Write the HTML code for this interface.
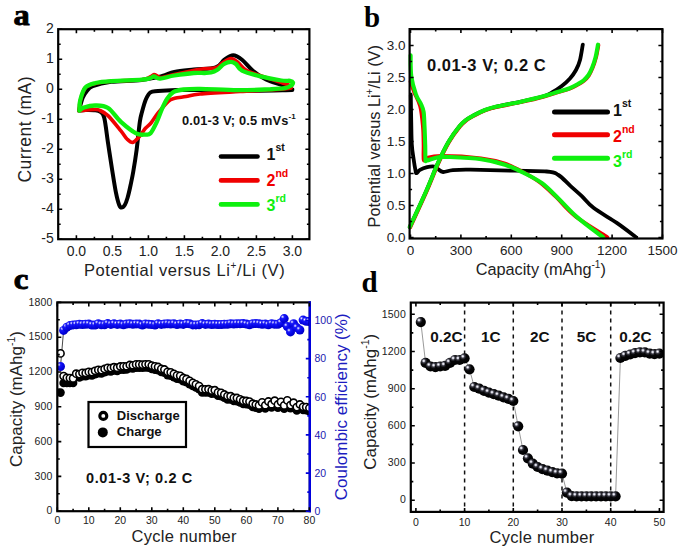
<!DOCTYPE html>
<html><head><meta charset="utf-8"><title>Figure</title>
<style>
html,body{margin:0;padding:0;background:#fff;}
body{width:685px;height:551px;overflow:hidden;}
svg{display:block;}
text{font-family:"Liberation Sans", sans-serif;}
.pl{font-family:"Liberation Serif", serif;font-weight:bold;}
</style></head><body>
<svg width="685" height="551" viewBox="0 0 685 551">
<defs>
<radialGradient id="ballK" cx="0.32" cy="0.3" r="0.7">
<stop offset="0" stop-color="#ffffff"/><stop offset="0.1" stop-color="#d8d8e4"/><stop offset="0.27" stop-color="#3a3a44"/><stop offset="0.5" stop-color="#060608"/><stop offset="1" stop-color="#000"/>
</radialGradient>
<radialGradient id="ballB" cx="0.32" cy="0.3" r="0.7">
<stop offset="0" stop-color="#ffffff"/><stop offset="0.1" stop-color="#a8a8ff"/><stop offset="0.28" stop-color="#1a1af8"/><stop offset="0.6" stop-color="#0808ea"/><stop offset="1" stop-color="#0000c8"/>
</radialGradient>
</defs>
<rect width="685" height="551" fill="#fff"/>

<text class="pl" x="13.6" y="25.2" font-size="30" fill="#000" stroke="#000" stroke-width="0.9" transform="translate(13.8 0) scale(1.08 1) translate(-13.8 0)">a</text>
<path d="M292.3,90 C285.2,90.1 265.4,90.8 250,90.8 C234.6,90.8 212.2,90.1 200,90 C187.8,89.9 184,89.8 177,90 C170,90.2 162.5,90.6 158.1,91 C153.7,91.4 152.6,90.9 150.5,92.3 C148.4,93.7 147.2,96.2 145.8,99.5 C144.4,102.8 143,108.2 142,112 C141,115.8 140.7,115.7 139.8,122 C138.9,128.3 137.7,141.7 136.6,150 C135.5,158.3 134.2,166.2 133.2,172 C132.2,177.8 131.5,180.7 130.6,185 C129.7,189.3 128.5,194.7 127.5,198 C126.5,201.3 125.8,203.4 124.8,205 C123.8,206.6 122.5,207.6 121.6,207.6 C120.7,207.6 120.2,207.6 119.2,205 C118.2,202.4 117,197.8 115.8,191.8 C114.6,185.8 113.3,177.1 112,169 C110.7,160.9 109.4,152 108.1,143.5 C106.8,135 105.6,123.4 104.3,118.1 C103,112.8 102.2,113.1 100.5,111.8 C98.8,110.5 96.6,110.5 94.2,110.2 C91.8,109.9 88.5,110 86,110 C83.5,110 80.2,110.4 79,110.5 M79,110.5 C79.6,108.4 81.4,101 82.7,97.8 C84,94.6 84.9,93.2 86.6,91.3 C88.3,89.4 88.6,87.8 92.7,86.2 C96.8,84.6 102.9,82.8 111.1,81.8 C119.3,80.8 133.2,81 141.7,80 C150.2,79 156.8,77.3 162.2,76 C167.6,74.7 169.1,73 174.4,71.9 C179.7,70.8 186.9,70.3 193.8,69.6 C200.7,68.8 210.6,69.1 215.7,67.4 C220.8,65.8 221.5,61.7 224.4,59.7 C227.3,57.7 230.3,55.3 233.2,55.3 C236.1,55.3 238.7,57.1 242,59.7 C245.3,62.3 248.9,67.4 252.9,70.7 C256.9,74 261.2,77 266,79.4 C270.8,81.8 277,83.2 281.4,84.9 C285.8,86.6 290.5,88.6 292.3,89.3" fill="none" stroke="#000" stroke-width="4.0" stroke-linejoin="round" stroke-linecap="round"/>
<path d="M291,88 C289.3,88.2 289.5,88.7 281,89.3 C272.5,89.9 253.5,90.7 240,91.5 C226.5,92.3 209,93.2 200,94 C191,94.8 190.2,95.8 186,96.5 C181.8,97.2 177.5,97.5 174.6,98.3 C171.7,99.1 171.1,98.8 168.3,101.3 C165.6,103.8 161,109.4 158.1,113 C155.2,116.6 153.1,120.5 151,123 C148.9,125.5 147.4,126 145.4,128.3 C143.4,130.6 141.1,134.7 139,137 C136.9,139.3 134.7,142.1 132.7,142.4 C130.7,142.7 129,140.9 127,139 C125,137.1 124.1,134.7 120.9,130.8 C117.7,126.9 111.5,119 108,115.6 C104.5,112.2 102.1,111.5 100,110.5 C97.9,109.5 98.9,109.5 95.4,109.5 C91.9,109.5 81.7,110.6 79,110.8 M79,110.8 C79.2,109 79.5,103.8 80.5,100 C81.5,96.2 82.7,90.8 85.2,88 C87.7,85.2 91.1,84.6 95.4,83.5 C99.7,82.4 103.3,81.9 111,81.3 C118.7,80.7 135.2,80.4 141.7,79.7 C148.2,79 147.9,77.9 150,77 C152.1,76.1 152.7,74.6 154,74.5 C155.3,74.4 156.7,76 158,76.5 C159.3,77 159.3,77.8 162,77.5 C164.7,77.2 168.1,75.9 174.4,74.5 C180.7,73.1 193.1,70.4 200,69.3 C206.9,68.2 211.9,68.9 215.7,67.8 C219.5,66.7 220.4,64 223,62.5 C225.6,61 228.5,58.6 231,58.6 C233.5,58.6 235.5,60.6 238,62.5 C240.5,64.4 242.3,67.8 246,70 C249.7,72.2 254.1,73.4 260,75.5 C265.9,77.6 276.4,80.8 281.4,82.5 C286.4,84.2 288.4,84.6 290,85.5 C291.6,86.4 290.8,87.6 291,88" fill="none" stroke="#f00000" stroke-width="3.6" stroke-linejoin="round" stroke-linecap="round"/>
<path d="M292,85 C290.8,85.5 288.7,87.5 285,88.2 C281.3,88.9 277.9,89 270,89.3 C262.1,89.6 249.3,90.3 237.6,90.2 C225.9,90.1 209,89 200,88.9 C191,88.8 187.9,89 183.5,89.5 C179.1,90 176.1,90.5 173.3,92.1 C170.6,93.7 168.9,96.2 167,99 C165.1,101.8 163.6,105.4 161.9,109.2 C160.2,113 158.7,117.9 156.8,121.9 C154.9,125.9 152.4,131.2 150.5,133.3 C148.6,135.4 147.8,134.6 145.4,134.6 C143,134.6 140.2,135.5 136.1,133.4 C132,131.3 125.6,126.1 120.9,121.9 C116.2,117.7 112.3,110.7 108.1,108 C103.8,105.3 99.4,105.6 95.4,105.5 C91.4,105.4 86.7,106.6 84,107.5 C81.3,108.4 80.2,110.2 79.4,110.7 M79.4,110.7 C79.5,109 79.2,104.2 80.2,100.3 C81.2,96.4 82.7,90.5 85.2,87.6 C87.7,84.7 91.1,84.1 95.4,83 C99.7,81.9 103.4,81.6 111.1,81.1 C118.8,80.5 135.2,80.2 141.7,79.7 C148.2,79.2 147.9,78.7 150,78.2 C152.1,77.7 152.3,76.4 154,76.5 C155.7,76.6 156.7,78.8 160.1,78.6 C163.5,78.4 168.8,76.4 174.4,75.5 C180,74.6 188.8,73.4 193.8,73 C198.9,72.6 201.8,73.1 204.7,73 C207.6,72.9 208.9,73 211,72.5 C213.1,72 214.8,71.4 217,70 C219.2,68.6 221.7,65.3 224,64 C226.3,62.6 229,61.9 231,61.9 C233,61.9 234.2,62.5 236,64 C237.8,65.5 238.1,68.7 242,70.7 C245.9,72.7 252.9,74.5 259.5,76.1 C266.1,77.7 276.3,79.7 281.4,80.5 C286.5,81.3 288.1,80.5 290,80.8 C291.9,81.1 292.7,81.8 293,82.5 C293.3,83.2 292.2,84.6 292,85" fill="none" stroke="#0ef00e" stroke-width="4.3" stroke-linejoin="round" stroke-linecap="round"/>
<rect x="58.2" y="29.2" width="251.2" height="210" fill="none" stroke="#000" stroke-width="2.2"/>
<path d="M76.4,239.2v-4M76.4,29.2v4M112.4,239.2v-4M112.4,29.2v4M148.4,239.2v-4M148.4,29.2v4M184.4,239.2v-4M184.4,29.2v4M220.4,239.2v-4M220.4,29.2v4M256.4,239.2v-4M256.4,29.2v4M292.4,239.2v-4M292.4,29.2v4M94.4,239.2v-2.5M94.4,29.2v2.5M130.4,239.2v-2.5M130.4,29.2v2.5M166.4,239.2v-2.5M166.4,29.2v2.5M202.4,239.2v-2.5M202.4,29.2v2.5M238.4,239.2v-2.5M238.4,29.2v2.5M274.4,239.2v-2.5M274.4,29.2v2.5" stroke="#000" stroke-width="1.6" fill="none"/>
<path d="M58.2,239.2h4M58.2,209.2h4M58.2,179.2h4M58.2,149.2h4M58.2,119.2h4M58.2,89.2h4M58.2,59.2h4M58.2,29.2h4M58.2,224.2h2.5M58.2,194.2h2.5M58.2,164.2h2.5M58.2,134.2h2.5M58.2,104.2h2.5M58.2,74.2h2.5M58.2,44.2h2.5" stroke="#000" stroke-width="1.6" fill="none"/>
<path d="M309.4,239.2h-4M309.4,209.2h-4M309.4,179.2h-4M309.4,149.2h-4M309.4,119.2h-4M309.4,89.2h-4M309.4,59.2h-4M309.4,29.2h-4M309.4,224.2h-2.5M309.4,194.2h-2.5M309.4,164.2h-2.5M309.4,134.2h-2.5M309.4,104.2h-2.5M309.4,74.2h-2.5M309.4,44.2h-2.5" stroke="#000" stroke-width="1.6" fill="none"/>
<text x="76.4" y="255.5" font-size="14" text-anchor="middle" font-weight="normal" fill="#222" >0.0</text>
<text x="112.4" y="255.5" font-size="14" text-anchor="middle" font-weight="normal" fill="#222" >0.5</text>
<text x="148.4" y="255.5" font-size="14" text-anchor="middle" font-weight="normal" fill="#222" >1.0</text>
<text x="184.4" y="255.5" font-size="14" text-anchor="middle" font-weight="normal" fill="#222" >1.5</text>
<text x="220.4" y="255.5" font-size="14" text-anchor="middle" font-weight="normal" fill="#222" >2.0</text>
<text x="256.4" y="255.5" font-size="14" text-anchor="middle" font-weight="normal" fill="#222" >2.5</text>
<text x="292.4" y="255.5" font-size="14" text-anchor="middle" font-weight="normal" fill="#222" >3.0</text>
<text x="53.7" y="243" font-size="14" text-anchor="end" font-weight="normal" fill="#222" >-5</text>
<text x="53.7" y="213" font-size="14" text-anchor="end" font-weight="normal" fill="#222" >-4</text>
<text x="53.7" y="183" font-size="14" text-anchor="end" font-weight="normal" fill="#222" >-3</text>
<text x="53.7" y="153" font-size="14" text-anchor="end" font-weight="normal" fill="#222" >-2</text>
<text x="53.7" y="123" font-size="14" text-anchor="end" font-weight="normal" fill="#222" >-1</text>
<text x="53.7" y="93" font-size="14" text-anchor="end" font-weight="normal" fill="#222" >0</text>
<text x="53.7" y="63" font-size="14" text-anchor="end" font-weight="normal" fill="#222" >1</text>
<text x="53.7" y="33" font-size="14" text-anchor="end" font-weight="normal" fill="#222" >2</text>
<text x="31.5" y="129.3" font-size="17.5" text-anchor="middle" font-weight="normal" fill="#222" letter-spacing="0.45" transform="rotate(-90 31.5 129.3)">Current (mA)</text>
<text x="83.9" y="276.4" font-size="16.5" letter-spacing="0.62" fill="#222">Potential versus Li<tspan font-size="10" dy="-7">+</tspan><tspan dy="7">/Li (V)</tspan></text>
<text x="182" y="125.2" font-size="12.8" letter-spacing="0.15" font-weight="bold" fill="#111">0.01-3 V; 0.5 mVs<tspan font-size="8" dy="-6">-1</tspan></text>
<path d="M221,156.5H257.5" stroke="#000" stroke-width="4.6" stroke-linecap="round"/>
<text x="266.5" y="160.3" font-size="16" font-weight="bold" fill="#111">1<tspan font-size="10.5" dy="-9">st</tspan></text>
<path d="M221,180.4H257.5" stroke="#f00000" stroke-width="4.6" stroke-linecap="round"/>
<text x="266.5" y="186.4" font-size="16" font-weight="bold" fill="#f00000">2<tspan font-size="10.5" dy="-9">nd</tspan></text>
<path d="M221,204.4H257.5" stroke="#0ef00e" stroke-width="4.6" stroke-linecap="round"/>
<text x="266.5" y="211.4" font-size="16" font-weight="bold" fill="#0ef00e">3<tspan font-size="10.5" dy="-9">rd</tspan></text>
<text class="pl" x="364" y="27" font-size="29" fill="#000">b</text>
<path d="M410.8,95 C410.9,99.2 411,111.8 411.2,120 C411.4,128.2 411.4,137.9 411.8,144.4 C412.2,150.9 413,154.8 413.6,159 C414.2,163.2 414.9,167.5 415.4,169.9 C415.9,172.3 415.7,173.2 416.5,173.2 C417.3,173.2 418.2,170.9 420,169.9 C421.8,168.9 424.8,167.7 427.2,167.1 C429.6,166.5 432.7,166.2 434.5,166.5 C436.3,166.8 436.6,168.1 438,169 C439.4,169.9 440.6,171.8 443.1,172 C445.6,172.2 448.3,170.5 452.9,170.1 C457.4,169.7 462.5,169.6 470.4,169.7 C478.2,169.8 487.3,170.1 500,170.4 C512.7,170.7 537,170.7 546.7,171.5 C556.4,172.3 554.5,172.7 558.4,175 C562.3,177.3 566.2,182.1 570.1,185.6 C574,189.1 577.9,192.4 581.8,196.1 C585.7,199.8 587.7,203.3 593.5,207.8 C599.3,212.3 609.7,218 616.8,222.9 C623.9,227.8 632.8,234.8 636,237.2" fill="none" stroke="#000" stroke-width="3.8" stroke-linejoin="round" stroke-linecap="round"/>
<path d="M409.8,227 C412.6,220.8 422.2,200.3 426.8,189.7 C431.4,179.1 434.1,171.6 437.7,163.6 C441.3,155.6 445,148 448.6,141.8 C452.2,135.6 456.6,129.9 459.5,126.3 C462.4,122.7 463.7,121.8 466,120 C468.3,118.2 470.2,117.2 473.4,115.5 C476.6,113.8 481.1,111.5 485,110 C488.9,108.5 490.8,107.9 496.7,106.6 C502.6,105.2 512.3,103.6 520.1,101.9 C527.9,100.2 538.2,97.9 543.5,96.3 C548.8,94.7 549,94.2 552,92.5 C555,90.8 558.8,88.3 561.8,86 C564.8,83.7 567.6,81.2 570,78.5 C572.4,75.8 574.3,73.1 576,70 C577.7,66.9 578.9,64.2 580,60 C581.1,55.8 582.3,47.2 582.8,44.7" fill="none" stroke="#000" stroke-width="3.8" stroke-linejoin="round" stroke-linecap="round"/>
<path d="M410.5,81.7 C411.1,83.4 412.4,88 414,92 C415.6,96 418.5,100.3 420,106 C421.5,111.7 422.2,119.8 422.8,126.3 C423.4,132.8 423.4,139.4 423.5,145 C423.6,150.6 423.1,157.7 423.6,159.9 C424.1,162.1 423.6,158.7 426.5,158 C429.4,157.3 431.9,155.9 441,155.9 C450.1,155.9 470.3,156.9 481,158.2 C491.7,159.5 498,161.2 505,163.5 C512,165.8 517.2,168.8 523,172 C528.8,175.2 534.5,178.3 540,182.5 C545.5,186.7 550.2,191.4 556,197 C561.8,202.6 566.4,209.3 575,216 C583.6,222.7 602.1,233.7 607.5,237.2" fill="none" stroke="#f00000" stroke-width="3.6" stroke-linejoin="round" stroke-linecap="round"/>
<path d="M410.3,227.4 C413.1,221.2 422.7,200.7 427.3,190.1 C431.9,179.5 434.6,172 438.2,164 C441.8,156 445.5,148.4 449.1,142.2 C452.7,136 457.1,130.3 460,126.7 C462.9,123.1 464.2,122.2 466.5,120.4 C468.8,118.6 470.7,117.6 473.9,115.9 C477.1,114.2 481.6,111.9 485.5,110.4 C489.4,108.9 491.3,108.3 497.2,107 C503.1,105.7 512.8,104 520.6,102.3 C528.4,100.6 537.8,98.4 544,96.7 C550.2,95 553.8,93.7 558,92.4 C562.2,91.1 566.1,90.2 569.5,88.9 C572.9,87.6 576.1,85.7 578.5,84.4 C580.9,83.1 582.2,82.4 584,80.9 C585.8,79.4 587.5,77.6 589,75.4 C590.5,73.2 591.5,70.8 592.7,67.9 C593.9,65 595,61.7 596,57.9 C597,54.1 598.1,47.2 598.5,45.1" fill="none" stroke="#f00000" stroke-width="3.6" stroke-linejoin="round" stroke-linecap="round"/>
<path d="M410.6,55.4 C410.7,58.9 410.4,69.8 411.3,76.3 C412.2,82.8 414.3,89.8 415.9,94.4 C417.5,99 419.7,101.1 421,104 C422.3,106.9 423,108.1 423.6,111.8 C424.2,115.5 424.2,120.8 424.5,126.3 C424.8,131.8 425,139.5 425.2,145 C425.4,150.5 425.2,156.9 425.5,159.5 C425.8,162.1 424.9,160.9 427,160.5 C429.1,160.1 434.4,157.8 438,157.2 C441.6,156.6 441.4,156.7 448.6,157 C455.8,157.3 471.8,157.9 481.2,159.2 C490.6,160.5 498,162.4 505,164.7 C512,166.9 517.2,169.6 523.4,172.7 C529.6,175.8 536.2,178.9 542,183.2 C547.8,187.5 552.5,192.8 558.4,198.4 C564.2,204.1 569.7,210.6 577.1,217.1 C584.5,223.6 598.7,233.8 603,237.2" fill="none" stroke="#0ef00e" stroke-width="4.1" stroke-linejoin="round" stroke-linecap="round"/>
<path d="M409.8,227 C412.6,220.8 422.2,200.3 426.8,189.7 C431.4,179.1 434.1,171.6 437.7,163.6 C441.3,155.6 445,148 448.6,141.8 C452.2,135.6 456.6,129.9 459.5,126.3 C462.4,122.7 463.7,121.8 466,120 C468.3,118.2 470.2,117.2 473.4,115.5 C476.6,113.8 481.1,111.5 485,110 C488.9,108.5 490.8,107.9 496.7,106.6 C502.6,105.2 512.3,103.6 520.1,101.9 C527.9,100.2 537.3,98 543.5,96.3 C549.7,94.6 553.2,93.3 557.5,92 C561.8,90.7 565.6,89.8 569,88.5 C572.4,87.2 575.6,85.3 578,84 C580.4,82.7 581.8,82 583.5,80.5 C585.2,79 587,77.2 588.5,75 C590,72.8 591,70.4 592.2,67.5 C593.4,64.6 594.5,61.3 595.5,57.5 C596.5,53.7 597.6,46.8 598,44.7" fill="none" stroke="#0ef00e" stroke-width="4.1" stroke-linejoin="round" stroke-linecap="round"/>
<rect x="409.6" y="29.1" width="252.8" height="209.4" fill="none" stroke="#000" stroke-width="2.2"/>
<path d="M410.5,238.5v-4M410.5,29.1v4M460.9,238.5v-4M460.9,29.1v4M511.3,238.5v-4M511.3,29.1v4M561.7,238.5v-4M561.7,29.1v4M612.1,238.5v-4M612.1,29.1v4M662.5,238.5v-4M662.5,29.1v4M435.7,238.5v-2.5M435.7,29.1v2.5M486.1,238.5v-2.5M486.1,29.1v2.5M536.5,238.5v-2.5M536.5,29.1v2.5M586.9,238.5v-2.5M586.9,29.1v2.5M637.3,238.5v-2.5M637.3,29.1v2.5" stroke="#000" stroke-width="1.6" fill="none"/>
<path d="M409.6,237.5h4M409.6,205.5h4M409.6,173.5h4M409.6,141.5h4M409.6,109.5h4M409.6,77.5h4M409.6,45.5h4M409.6,221.5h2.5M409.6,189.5h2.5M409.6,157.5h2.5M409.6,125.5h2.5M409.6,93.5h2.5M409.6,61.5h2.5" stroke="#000" stroke-width="1.6" fill="none"/>
<path d="M662.4,237.5h-4M662.4,205.5h-4M662.4,173.5h-4M662.4,141.5h-4M662.4,109.5h-4M662.4,77.5h-4M662.4,45.5h-4M662.4,221.5h-2.5M662.4,189.5h-2.5M662.4,157.5h-2.5M662.4,125.5h-2.5M662.4,93.5h-2.5M662.4,61.5h-2.5" stroke="#000" stroke-width="1.6" fill="none"/>
<text x="410.5" y="255.3" font-size="13.5" text-anchor="middle" font-weight="normal" fill="#222" >0</text>
<text x="460.9" y="255.3" font-size="13.5" text-anchor="middle" font-weight="normal" fill="#222" >300</text>
<text x="511.3" y="255.3" font-size="13.5" text-anchor="middle" font-weight="normal" fill="#222" >600</text>
<text x="561.7" y="255.3" font-size="13.5" text-anchor="middle" font-weight="normal" fill="#222" >900</text>
<text x="612.1" y="255.3" font-size="13.5" text-anchor="middle" font-weight="normal" fill="#222" >1200</text>
<text x="662.5" y="255.3" font-size="13.5" text-anchor="middle" font-weight="normal" fill="#222" >1500</text>
<text x="405.5" y="242.3" font-size="13.5" text-anchor="end" font-weight="normal" fill="#222" >0.0</text>
<text x="405.5" y="210.3" font-size="13.5" text-anchor="end" font-weight="normal" fill="#222" >0.5</text>
<text x="405.5" y="178.3" font-size="13.5" text-anchor="end" font-weight="normal" fill="#222" >1.0</text>
<text x="405.5" y="146.3" font-size="13.5" text-anchor="end" font-weight="normal" fill="#222" >1.5</text>
<text x="405.5" y="114.3" font-size="13.5" text-anchor="end" font-weight="normal" fill="#222" >2.0</text>
<text x="405.5" y="82.3" font-size="13.5" text-anchor="end" font-weight="normal" fill="#222" >2.5</text>
<text x="405.5" y="50.3" font-size="13.5" text-anchor="end" font-weight="normal" fill="#222" >3.0</text>
<text transform="rotate(-90 380 136.3)" x="380" y="136.3" font-size="16.3" text-anchor="middle" fill="#222">Potential versus Li<tspan font-size="10" dy="-7">+</tspan><tspan dy="7">/Li (V)</tspan></text>
<text x="475.7" y="274.9" font-size="16.3" fill="#222">Capacity (mAhg<tspan font-size="10" dy="-7">-1</tspan><tspan dy="7">)</tspan></text>
<text x="427" y="71.3" font-size="16.5" letter-spacing="0.55" font-weight="bold" fill="#111">0.01-3 V; 0.2 C</text>
<path d="M554.5,111.9H607.5" stroke="#000" stroke-width="5" stroke-linecap="round"/>
<text x="613" y="116.3" font-size="16" font-weight="bold" fill="#111">1<tspan font-size="10.5" dy="-9">st</tspan></text>
<path d="M554.5,134.7H607.5" stroke="#f00000" stroke-width="5" stroke-linecap="round"/>
<text x="613" y="141.7" font-size="16" font-weight="bold" fill="#f00000">2<tspan font-size="10.5" dy="-9">nd</tspan></text>
<path d="M554.5,158.3H607.5" stroke="#0ef00e" stroke-width="5" stroke-linecap="round"/>
<text x="613" y="167" font-size="16" font-weight="bold" fill="#0ef00e">3<tspan font-size="10.5" dy="-9">rd</tspan></text>
<text class="pl" x="13.8" y="289.5" font-size="30" fill="#000" stroke="#000" stroke-width="0.9" transform="translate(14.5 0) scale(1.1 1) translate(-14.5 0)">c</text>
<clipPath id="clipC"><rect x="57.3" y="302.4" width="252.5" height="208.8"/></clipPath><g clip-path="url(#clipC)">
<path d="M60.5,366.5L63.6,330.4" stroke="#333" stroke-width="0.9" fill="none"/>
<circle cx="60.5" cy="392.6" r="4.3" fill="#000"/>
<circle cx="63.6" cy="383" r="4.3" fill="#000"/>
<circle cx="66.8" cy="383" r="4.3" fill="#000"/>
<circle cx="69.9" cy="383" r="4.3" fill="#000"/>
<circle cx="73.1" cy="383" r="4.3" fill="#000"/>
<circle cx="76.2" cy="377" r="4.3" fill="#000"/>
<circle cx="79.4" cy="377.4" r="4.3" fill="#000"/>
<circle cx="82.5" cy="376.1" r="4.3" fill="#000"/>
<circle cx="85.7" cy="376.2" r="4.3" fill="#000"/>
<circle cx="88.8" cy="375.1" r="4.3" fill="#000"/>
<circle cx="92" cy="375.4" r="4.3" fill="#000"/>
<circle cx="95.1" cy="374.1" r="4.3" fill="#000"/>
<circle cx="98.3" cy="373.2" r="4.3" fill="#000"/>
<circle cx="101.4" cy="373.4" r="4.3" fill="#000"/>
<circle cx="104.6" cy="372.3" r="4.3" fill="#000"/>
<circle cx="107.7" cy="371.1" r="4.3" fill="#000"/>
<circle cx="110.9" cy="371.4" r="4.3" fill="#000"/>
<circle cx="114" cy="370.4" r="4.3" fill="#000"/>
<circle cx="117.2" cy="371" r="4.3" fill="#000"/>
<circle cx="120.3" cy="369.8" r="4.3" fill="#000"/>
<circle cx="123.5" cy="369.6" r="4.3" fill="#000"/>
<circle cx="126.6" cy="369.5" r="4.3" fill="#000"/>
<circle cx="129.8" cy="368.3" r="4.3" fill="#000"/>
<circle cx="132.9" cy="368.5" r="4.3" fill="#000"/>
<circle cx="136.1" cy="367.6" r="4.3" fill="#000"/>
<circle cx="139.2" cy="367.7" r="4.3" fill="#000"/>
<circle cx="142.4" cy="367.8" r="4.3" fill="#000"/>
<circle cx="145.5" cy="367.5" r="4.3" fill="#000"/>
<circle cx="148.7" cy="367.6" r="4.3" fill="#000"/>
<circle cx="151.8" cy="368.9" r="4.3" fill="#000"/>
<circle cx="155" cy="369.6" r="4.3" fill="#000"/>
<circle cx="158.1" cy="370.2" r="4.3" fill="#000"/>
<circle cx="161.3" cy="372" r="4.3" fill="#000"/>
<circle cx="164.4" cy="372.8" r="4.3" fill="#000"/>
<circle cx="167.6" cy="375.1" r="4.3" fill="#000"/>
<circle cx="170.7" cy="375.6" r="4.3" fill="#000"/>
<circle cx="173.9" cy="377.1" r="4.3" fill="#000"/>
<circle cx="177" cy="378.7" r="4.3" fill="#000"/>
<circle cx="180.2" cy="379.1" r="4.3" fill="#000"/>
<circle cx="183.3" cy="381.3" r="4.3" fill="#000"/>
<circle cx="186.5" cy="382.2" r="4.3" fill="#000"/>
<circle cx="189.6" cy="384.1" r="4.3" fill="#000"/>
<circle cx="192.8" cy="386" r="4.3" fill="#000"/>
<circle cx="195.9" cy="387.5" r="4.3" fill="#000"/>
<circle cx="199.1" cy="389.3" r="4.3" fill="#000"/>
<circle cx="202.2" cy="392.4" r="4.3" fill="#000"/>
<circle cx="205.4" cy="392.5" r="4.3" fill="#000"/>
<circle cx="208.5" cy="392.5" r="4.3" fill="#000"/>
<circle cx="211.7" cy="393.6" r="4.3" fill="#000"/>
<circle cx="214.8" cy="393.5" r="4.3" fill="#000"/>
<circle cx="218" cy="395.7" r="4.3" fill="#000"/>
<circle cx="221.2" cy="396.2" r="4.3" fill="#000"/>
<circle cx="224.3" cy="397.7" r="4.3" fill="#000"/>
<circle cx="227.5" cy="399.4" r="4.3" fill="#000"/>
<circle cx="230.6" cy="399.4" r="4.3" fill="#000"/>
<circle cx="233.8" cy="401" r="4.3" fill="#000"/>
<circle cx="236.9" cy="401.3" r="4.3" fill="#000"/>
<circle cx="240.1" cy="402.5" r="4.3" fill="#000"/>
<circle cx="243.2" cy="403.9" r="4.3" fill="#000"/>
<circle cx="246.4" cy="404.2" r="4.3" fill="#000"/>
<circle cx="249.5" cy="404.8" r="4.3" fill="#000"/>
<circle cx="252.7" cy="406.9" r="4.3" fill="#000"/>
<circle cx="255.8" cy="407.7" r="4.3" fill="#000"/>
<circle cx="259" cy="408.7" r="4.3" fill="#000"/>
<circle cx="262.1" cy="405.6" r="4.3" fill="#000"/>
<circle cx="265.3" cy="408.5" r="4.3" fill="#000"/>
<circle cx="268.4" cy="404.8" r="4.3" fill="#000"/>
<circle cx="271.6" cy="407.5" r="4.3" fill="#000"/>
<circle cx="274.7" cy="404" r="4.3" fill="#000"/>
<circle cx="277.9" cy="407.7" r="4.3" fill="#000"/>
<circle cx="281" cy="405" r="4.3" fill="#000"/>
<circle cx="284.2" cy="408.7" r="4.3" fill="#000"/>
<circle cx="287.3" cy="403.7" r="4.3" fill="#000"/>
<circle cx="290.5" cy="408.3" r="4.3" fill="#000"/>
<circle cx="293.6" cy="406" r="4.3" fill="#000"/>
<circle cx="296.8" cy="410.4" r="4.3" fill="#000"/>
<circle cx="299.9" cy="407.7" r="4.3" fill="#000"/>
<circle cx="303.1" cy="410" r="4.3" fill="#000"/>
<circle cx="306.2" cy="410.3" r="4.3" fill="#000"/>
<circle cx="309.4" cy="411.2" r="4.3" fill="#000"/>
<circle cx="60.5" cy="366.5" r="4.5" fill="url(#ballB)"/>
<circle cx="63.6" cy="330.4" r="4.5" fill="url(#ballB)"/>
<circle cx="66.8" cy="327.2" r="4.5" fill="url(#ballB)"/>
<circle cx="69.9" cy="325.6" r="4.5" fill="url(#ballB)"/>
<circle cx="73.1" cy="324.9" r="4.5" fill="url(#ballB)"/>
<circle cx="76.2" cy="324.7" r="4.5" fill="url(#ballB)"/>
<circle cx="79.4" cy="324.2" r="4.5" fill="url(#ballB)"/>
<circle cx="82.5" cy="324.5" r="4.5" fill="url(#ballB)"/>
<circle cx="85.7" cy="324.2" r="4.5" fill="url(#ballB)"/>
<circle cx="88.8" cy="324.1" r="4.5" fill="url(#ballB)"/>
<circle cx="92" cy="325" r="4.5" fill="url(#ballB)"/>
<circle cx="95.1" cy="325.1" r="4.5" fill="url(#ballB)"/>
<circle cx="98.3" cy="323.8" r="4.5" fill="url(#ballB)"/>
<circle cx="101.4" cy="324.7" r="4.5" fill="url(#ballB)"/>
<circle cx="104.6" cy="324.7" r="4.5" fill="url(#ballB)"/>
<circle cx="107.7" cy="323.6" r="4.5" fill="url(#ballB)"/>
<circle cx="110.9" cy="324.4" r="4.5" fill="url(#ballB)"/>
<circle cx="114" cy="323.8" r="4.5" fill="url(#ballB)"/>
<circle cx="117.2" cy="324.4" r="4.5" fill="url(#ballB)"/>
<circle cx="120.3" cy="324.1" r="4.5" fill="url(#ballB)"/>
<circle cx="123.5" cy="324.8" r="4.5" fill="url(#ballB)"/>
<circle cx="126.6" cy="324.1" r="4.5" fill="url(#ballB)"/>
<circle cx="129.8" cy="323.8" r="4.5" fill="url(#ballB)"/>
<circle cx="132.9" cy="324.3" r="4.5" fill="url(#ballB)"/>
<circle cx="136.1" cy="323.9" r="4.5" fill="url(#ballB)"/>
<circle cx="139.2" cy="324.1" r="4.5" fill="url(#ballB)"/>
<circle cx="142.4" cy="325" r="4.5" fill="url(#ballB)"/>
<circle cx="145.5" cy="323.9" r="4.5" fill="url(#ballB)"/>
<circle cx="148.7" cy="324.2" r="4.5" fill="url(#ballB)"/>
<circle cx="151.8" cy="324.6" r="4.5" fill="url(#ballB)"/>
<circle cx="155" cy="325" r="4.5" fill="url(#ballB)"/>
<circle cx="158.1" cy="323.8" r="4.5" fill="url(#ballB)"/>
<circle cx="161.3" cy="324.4" r="4.5" fill="url(#ballB)"/>
<circle cx="164.4" cy="324" r="4.5" fill="url(#ballB)"/>
<circle cx="167.6" cy="323.7" r="4.5" fill="url(#ballB)"/>
<circle cx="170.7" cy="324" r="4.5" fill="url(#ballB)"/>
<circle cx="173.9" cy="323.7" r="4.5" fill="url(#ballB)"/>
<circle cx="177" cy="324.5" r="4.5" fill="url(#ballB)"/>
<circle cx="180.2" cy="323.9" r="4.5" fill="url(#ballB)"/>
<circle cx="183.3" cy="324.4" r="4.5" fill="url(#ballB)"/>
<circle cx="186.5" cy="323.6" r="4.5" fill="url(#ballB)"/>
<circle cx="189.6" cy="323.7" r="4.5" fill="url(#ballB)"/>
<circle cx="192.8" cy="324.9" r="4.5" fill="url(#ballB)"/>
<circle cx="195.9" cy="324.9" r="4.5" fill="url(#ballB)"/>
<circle cx="199.1" cy="324.7" r="4.5" fill="url(#ballB)"/>
<circle cx="202.2" cy="323.6" r="4.5" fill="url(#ballB)"/>
<circle cx="205.4" cy="324.4" r="4.5" fill="url(#ballB)"/>
<circle cx="208.5" cy="324.1" r="4.5" fill="url(#ballB)"/>
<circle cx="211.7" cy="324.6" r="4.5" fill="url(#ballB)"/>
<circle cx="214.8" cy="324.3" r="4.5" fill="url(#ballB)"/>
<circle cx="218" cy="324.5" r="4.5" fill="url(#ballB)"/>
<circle cx="221.2" cy="324.5" r="4.5" fill="url(#ballB)"/>
<circle cx="224.3" cy="324.2" r="4.5" fill="url(#ballB)"/>
<circle cx="227.5" cy="324.2" r="4.5" fill="url(#ballB)"/>
<circle cx="230.6" cy="323.7" r="4.5" fill="url(#ballB)"/>
<circle cx="233.8" cy="324" r="4.5" fill="url(#ballB)"/>
<circle cx="236.9" cy="323.7" r="4.5" fill="url(#ballB)"/>
<circle cx="240.1" cy="323.8" r="4.5" fill="url(#ballB)"/>
<circle cx="243.2" cy="323.6" r="4.5" fill="url(#ballB)"/>
<circle cx="246.4" cy="324.1" r="4.5" fill="url(#ballB)"/>
<circle cx="249.5" cy="324.8" r="4.5" fill="url(#ballB)"/>
<circle cx="252.7" cy="323.8" r="4.5" fill="url(#ballB)"/>
<circle cx="255.8" cy="323.6" r="4.5" fill="url(#ballB)"/>
<circle cx="259" cy="323.7" r="4.5" fill="url(#ballB)"/>
<circle cx="262.1" cy="324.2" r="4.5" fill="url(#ballB)"/>
<circle cx="265.3" cy="324" r="4.5" fill="url(#ballB)"/>
<circle cx="268.4" cy="324.8" r="4.5" fill="url(#ballB)"/>
<circle cx="271.6" cy="323.8" r="4.5" fill="url(#ballB)"/>
<circle cx="274.7" cy="324.2" r="4.5" fill="url(#ballB)"/>
<circle cx="277.9" cy="324.3" r="4.5" fill="url(#ballB)"/>
<circle cx="281" cy="322.8" r="4.5" fill="url(#ballB)"/>
<circle cx="284.2" cy="318.6" r="4.5" fill="url(#ballB)"/>
<circle cx="287.3" cy="326.6" r="4.5" fill="url(#ballB)"/>
<circle cx="290.5" cy="331.9" r="4.5" fill="url(#ballB)"/>
<circle cx="293.6" cy="323.7" r="4.5" fill="url(#ballB)"/>
<circle cx="296.8" cy="327.6" r="4.5" fill="url(#ballB)"/>
<circle cx="299.9" cy="330" r="4.5" fill="url(#ballB)"/>
<circle cx="303.1" cy="320.1" r="4.5" fill="url(#ballB)"/>
<circle cx="306.2" cy="321.3" r="4.5" fill="url(#ballB)"/>
<circle cx="309.4" cy="321.6" r="4.5" fill="url(#ballB)"/>
<circle cx="60.5" cy="353.4" r="3.6" fill="#fff" stroke="#000" stroke-width="1.6"/>
<circle cx="63.6" cy="376.1" r="3.6" fill="#fff" stroke="#000" stroke-width="1.6"/>
<circle cx="66.8" cy="377.8" r="3.6" fill="#fff" stroke="#000" stroke-width="1.6"/>
<circle cx="69.9" cy="378.1" r="3.6" fill="#fff" stroke="#000" stroke-width="1.6"/>
<circle cx="73.1" cy="378.4" r="3.6" fill="#fff" stroke="#000" stroke-width="1.6"/>
<circle cx="76.2" cy="373.7" r="3.6" fill="#fff" stroke="#000" stroke-width="1.6"/>
<circle cx="79.4" cy="374.1" r="3.6" fill="#fff" stroke="#000" stroke-width="1.6"/>
<circle cx="82.5" cy="372.8" r="3.6" fill="#fff" stroke="#000" stroke-width="1.6"/>
<circle cx="85.7" cy="373" r="3.6" fill="#fff" stroke="#000" stroke-width="1.6"/>
<circle cx="88.8" cy="371.9" r="3.6" fill="#fff" stroke="#000" stroke-width="1.6"/>
<circle cx="92" cy="372.1" r="3.6" fill="#fff" stroke="#000" stroke-width="1.6"/>
<circle cx="95.1" cy="370.8" r="3.6" fill="#fff" stroke="#000" stroke-width="1.6"/>
<circle cx="98.3" cy="369.9" r="3.6" fill="#fff" stroke="#000" stroke-width="1.6"/>
<circle cx="101.4" cy="370.1" r="3.6" fill="#fff" stroke="#000" stroke-width="1.6"/>
<circle cx="104.6" cy="369" r="3.6" fill="#fff" stroke="#000" stroke-width="1.6"/>
<circle cx="107.7" cy="367.8" r="3.6" fill="#fff" stroke="#000" stroke-width="1.6"/>
<circle cx="110.9" cy="368.1" r="3.6" fill="#fff" stroke="#000" stroke-width="1.6"/>
<circle cx="114" cy="367.2" r="3.6" fill="#fff" stroke="#000" stroke-width="1.6"/>
<circle cx="117.2" cy="367.7" r="3.6" fill="#fff" stroke="#000" stroke-width="1.6"/>
<circle cx="120.3" cy="366.5" r="3.6" fill="#fff" stroke="#000" stroke-width="1.6"/>
<circle cx="123.5" cy="366.3" r="3.6" fill="#fff" stroke="#000" stroke-width="1.6"/>
<circle cx="126.6" cy="366.3" r="3.6" fill="#fff" stroke="#000" stroke-width="1.6"/>
<circle cx="129.8" cy="365" r="3.6" fill="#fff" stroke="#000" stroke-width="1.6"/>
<circle cx="132.9" cy="365.3" r="3.6" fill="#fff" stroke="#000" stroke-width="1.6"/>
<circle cx="136.1" cy="364.4" r="3.6" fill="#fff" stroke="#000" stroke-width="1.6"/>
<circle cx="139.2" cy="364.4" r="3.6" fill="#fff" stroke="#000" stroke-width="1.6"/>
<circle cx="142.4" cy="364.6" r="3.6" fill="#fff" stroke="#000" stroke-width="1.6"/>
<circle cx="145.5" cy="364.3" r="3.6" fill="#fff" stroke="#000" stroke-width="1.6"/>
<circle cx="148.7" cy="364.3" r="3.6" fill="#fff" stroke="#000" stroke-width="1.6"/>
<circle cx="151.8" cy="365.6" r="3.6" fill="#fff" stroke="#000" stroke-width="1.6"/>
<circle cx="155" cy="366.4" r="3.6" fill="#fff" stroke="#000" stroke-width="1.6"/>
<circle cx="158.1" cy="367" r="3.6" fill="#fff" stroke="#000" stroke-width="1.6"/>
<circle cx="161.3" cy="368.8" r="3.6" fill="#fff" stroke="#000" stroke-width="1.6"/>
<circle cx="164.4" cy="369.5" r="3.6" fill="#fff" stroke="#000" stroke-width="1.6"/>
<circle cx="167.6" cy="371.8" r="3.6" fill="#fff" stroke="#000" stroke-width="1.6"/>
<circle cx="170.7" cy="372.3" r="3.6" fill="#fff" stroke="#000" stroke-width="1.6"/>
<circle cx="173.9" cy="373.8" r="3.6" fill="#fff" stroke="#000" stroke-width="1.6"/>
<circle cx="177" cy="375.4" r="3.6" fill="#fff" stroke="#000" stroke-width="1.6"/>
<circle cx="180.2" cy="375.8" r="3.6" fill="#fff" stroke="#000" stroke-width="1.6"/>
<circle cx="183.3" cy="378" r="3.6" fill="#fff" stroke="#000" stroke-width="1.6"/>
<circle cx="186.5" cy="379" r="3.6" fill="#fff" stroke="#000" stroke-width="1.6"/>
<circle cx="189.6" cy="380.8" r="3.6" fill="#fff" stroke="#000" stroke-width="1.6"/>
<circle cx="192.8" cy="382.8" r="3.6" fill="#fff" stroke="#000" stroke-width="1.6"/>
<circle cx="195.9" cy="384.3" r="3.6" fill="#fff" stroke="#000" stroke-width="1.6"/>
<circle cx="199.1" cy="386.1" r="3.6" fill="#fff" stroke="#000" stroke-width="1.6"/>
<circle cx="202.2" cy="389.2" r="3.6" fill="#fff" stroke="#000" stroke-width="1.6"/>
<circle cx="205.4" cy="389.3" r="3.6" fill="#fff" stroke="#000" stroke-width="1.6"/>
<circle cx="208.5" cy="389.2" r="3.6" fill="#fff" stroke="#000" stroke-width="1.6"/>
<circle cx="211.7" cy="390.4" r="3.6" fill="#fff" stroke="#000" stroke-width="1.6"/>
<circle cx="214.8" cy="390.2" r="3.6" fill="#fff" stroke="#000" stroke-width="1.6"/>
<circle cx="218" cy="392.4" r="3.6" fill="#fff" stroke="#000" stroke-width="1.6"/>
<circle cx="221.2" cy="392.9" r="3.6" fill="#fff" stroke="#000" stroke-width="1.6"/>
<circle cx="224.3" cy="394.5" r="3.6" fill="#fff" stroke="#000" stroke-width="1.6"/>
<circle cx="227.5" cy="396.1" r="3.6" fill="#fff" stroke="#000" stroke-width="1.6"/>
<circle cx="230.6" cy="396.2" r="3.6" fill="#fff" stroke="#000" stroke-width="1.6"/>
<circle cx="233.8" cy="397.8" r="3.6" fill="#fff" stroke="#000" stroke-width="1.6"/>
<circle cx="236.9" cy="398" r="3.6" fill="#fff" stroke="#000" stroke-width="1.6"/>
<circle cx="240.1" cy="399.3" r="3.6" fill="#fff" stroke="#000" stroke-width="1.6"/>
<circle cx="243.2" cy="400.7" r="3.6" fill="#fff" stroke="#000" stroke-width="1.6"/>
<circle cx="246.4" cy="401" r="3.6" fill="#fff" stroke="#000" stroke-width="1.6"/>
<circle cx="249.5" cy="401.6" r="3.6" fill="#fff" stroke="#000" stroke-width="1.6"/>
<circle cx="252.7" cy="403.7" r="3.6" fill="#fff" stroke="#000" stroke-width="1.6"/>
<circle cx="255.8" cy="404.5" r="3.6" fill="#fff" stroke="#000" stroke-width="1.6"/>
<circle cx="259" cy="405.4" r="3.6" fill="#fff" stroke="#000" stroke-width="1.6"/>
<circle cx="262.1" cy="402.4" r="3.6" fill="#fff" stroke="#000" stroke-width="1.6"/>
<circle cx="265.3" cy="405.3" r="3.6" fill="#fff" stroke="#000" stroke-width="1.6"/>
<circle cx="268.4" cy="401.5" r="3.6" fill="#fff" stroke="#000" stroke-width="1.6"/>
<circle cx="271.6" cy="404.2" r="3.6" fill="#fff" stroke="#000" stroke-width="1.6"/>
<circle cx="274.7" cy="400.7" r="3.6" fill="#fff" stroke="#000" stroke-width="1.6"/>
<circle cx="277.9" cy="404.5" r="3.6" fill="#fff" stroke="#000" stroke-width="1.6"/>
<circle cx="281" cy="401.8" r="3.6" fill="#fff" stroke="#000" stroke-width="1.6"/>
<circle cx="284.2" cy="405.4" r="3.6" fill="#fff" stroke="#000" stroke-width="1.6"/>
<circle cx="287.3" cy="400.4" r="3.6" fill="#fff" stroke="#000" stroke-width="1.6"/>
<circle cx="290.5" cy="405.1" r="3.6" fill="#fff" stroke="#000" stroke-width="1.6"/>
<circle cx="293.6" cy="402.7" r="3.6" fill="#fff" stroke="#000" stroke-width="1.6"/>
<circle cx="296.8" cy="407.1" r="3.6" fill="#fff" stroke="#000" stroke-width="1.6"/>
<circle cx="299.9" cy="404.5" r="3.6" fill="#fff" stroke="#000" stroke-width="1.6"/>
<circle cx="303.1" cy="406.8" r="3.6" fill="#fff" stroke="#000" stroke-width="1.6"/>
<circle cx="306.2" cy="407.1" r="3.6" fill="#fff" stroke="#000" stroke-width="1.6"/>
<circle cx="309.4" cy="408" r="3.6" fill="#fff" stroke="#000" stroke-width="1.6"/>
</g>
<rect x="57.3" y="302.4" width="252.5" height="208.8" fill="none" stroke="#000" stroke-width="2.2"/>
<path d="M309.8,301.29999999999995V512.3" stroke="#0000dd" stroke-width="2.4"/>
<path d="M57.3,511.2v-4M57.3,302.4v4M88.8,511.2v-4M88.8,302.4v4M120.3,511.2v-4M120.3,302.4v4M151.8,511.2v-4M151.8,302.4v4M183.3,511.2v-4M183.3,302.4v4M214.8,511.2v-4M214.8,302.4v4M246.4,511.2v-4M246.4,302.4v4M277.9,511.2v-4M277.9,302.4v4M309.4,511.2v-4M309.4,302.4v4M73.1,511.2v-2.5M73.1,302.4v2.5M104.6,511.2v-2.5M104.6,302.4v2.5M136.1,511.2v-2.5M136.1,302.4v2.5M167.6,511.2v-2.5M167.6,302.4v2.5M199.1,511.2v-2.5M199.1,302.4v2.5M230.6,511.2v-2.5M230.6,302.4v2.5M262.1,511.2v-2.5M262.1,302.4v2.5M293.6,511.2v-2.5M293.6,302.4v2.5" stroke="#000" stroke-width="1.6" fill="none"/>
<path d="M57.3,511.2h4M57.3,476.4h4M57.3,441.6h4M57.3,406.8h4M57.3,372h4M57.3,337.2h4M57.3,302.4h4M57.3,493.8h2.5M57.3,459h2.5M57.3,424.2h2.5M57.3,389.4h2.5M57.3,354.6h2.5M57.3,319.8h2.5" stroke="#000" stroke-width="1.6" fill="none"/>
<path d="" stroke="#000" stroke-width="1.6" fill="none"/>
<path d="M309.8,511.2h-4M309.8,473.1h-4M309.8,434.9h-4M309.8,396.8h-4M309.8,358.6h-4M309.8,320.5h-4M309.8,492.1h-2.5M309.8,454h-2.5M309.8,415.9h-2.5M309.8,377.7h-2.5M309.8,339.6h-2.5" stroke="#0000dd" stroke-width="1.6" fill="none"/>
<text x="57.3" y="524.3" font-size="10.5" text-anchor="middle" font-weight="normal" fill="#222" >0</text>
<text x="88.8" y="524.3" font-size="10.5" text-anchor="middle" font-weight="normal" fill="#222" >10</text>
<text x="120.3" y="524.3" font-size="10.5" text-anchor="middle" font-weight="normal" fill="#222" >20</text>
<text x="151.8" y="524.3" font-size="10.5" text-anchor="middle" font-weight="normal" fill="#222" >30</text>
<text x="183.3" y="524.3" font-size="10.5" text-anchor="middle" font-weight="normal" fill="#222" >40</text>
<text x="214.8" y="524.3" font-size="10.5" text-anchor="middle" font-weight="normal" fill="#222" >50</text>
<text x="246.4" y="524.3" font-size="10.5" text-anchor="middle" font-weight="normal" fill="#222" >60</text>
<text x="277.9" y="524.3" font-size="10.5" text-anchor="middle" font-weight="normal" fill="#222" >70</text>
<text x="309.4" y="524.3" font-size="10.5" text-anchor="middle" font-weight="normal" fill="#222" >80</text>
<text x="52.5" y="514.4" font-size="10.5" text-anchor="end" font-weight="normal" fill="#222" letter-spacing="0.15">0</text>
<text x="52.5" y="479.6" font-size="10.5" text-anchor="end" font-weight="normal" fill="#222" letter-spacing="0.15">300</text>
<text x="52.5" y="444.8" font-size="10.5" text-anchor="end" font-weight="normal" fill="#222" letter-spacing="0.15">600</text>
<text x="52.5" y="410" font-size="10.5" text-anchor="end" font-weight="normal" fill="#222" letter-spacing="0.15">900</text>
<text x="52.5" y="375.2" font-size="10.5" text-anchor="end" font-weight="normal" fill="#222" letter-spacing="0.15">1200</text>
<text x="52.5" y="340.4" font-size="10.5" text-anchor="end" font-weight="normal" fill="#222" letter-spacing="0.15">1500</text>
<text x="52.5" y="305.6" font-size="10.5" text-anchor="end" font-weight="normal" fill="#222" letter-spacing="0.15">1800</text>
<text x="314.5" y="515" font-size="10.5" text-anchor="start" font-weight="normal" fill="#1a1ab0" >0</text>
<text x="314.5" y="476.9" font-size="10.5" text-anchor="start" font-weight="normal" fill="#1a1ab0" >20</text>
<text x="314.5" y="438.7" font-size="10.5" text-anchor="start" font-weight="normal" fill="#1a1ab0" >40</text>
<text x="314.5" y="400.6" font-size="10.5" text-anchor="start" font-weight="normal" fill="#1a1ab0" >60</text>
<text x="314.5" y="362.4" font-size="10.5" text-anchor="start" font-weight="normal" fill="#1a1ab0" >80</text>
<text x="314.5" y="324.3" font-size="10.5" text-anchor="start" font-weight="normal" fill="#1a1ab0" >100</text>
<text transform="rotate(-90 21.5 399)" x="21.5" y="399" font-size="17" text-anchor="middle" fill="#222">Capacity (mAhg<tspan font-size="10.5" dy="-7">-1</tspan><tspan dy="7">)</tspan></text>
<text x="184.2" y="542" font-size="16.5" letter-spacing="0.3" text-anchor="middle" fill="#222">Cycle number</text>
<text transform="rotate(-90 347.5 406.8)" x="347.5" y="406.8" font-size="17" text-anchor="middle" fill="#1c1cc0">Coulombic efficiency (%)</text>
<rect x="88.5" y="402" width="97.5" height="45" fill="#fff" stroke="#000" stroke-width="2.2"/>
<circle cx="103.3" cy="415.9" r="3.5" fill="#fff" stroke="#000" stroke-width="3.1"/>
<circle cx="102.8" cy="432.4" r="5" fill="#000"/>
<text x="116.8" y="420.1" font-size="13" text-anchor="start" font-weight="bold" fill="#111" >Discharge</text>
<text x="116.8" y="436.4" font-size="13" text-anchor="start" font-weight="bold" fill="#111" >Charge</text>
<text x="86" y="483.4" font-size="14.5" letter-spacing="0.62" font-weight="bold" fill="#111">0.01-3 V; 0.2 C</text>
<text class="pl" x="361.5" y="291.5" font-size="29" fill="#000">d</text>
<clipPath id="clipD"><rect x="410.8" y="302.6" width="252.8" height="209.3"/></clipPath><g clip-path="url(#clipD)">
<path d="M464.6,302.6V511.9" stroke="#111" stroke-width="1.5" stroke-dasharray="3.9,4.1"/>
<path d="M513.3,302.6V511.9" stroke="#111" stroke-width="1.5" stroke-dasharray="3.9,4.1"/>
<path d="M562,302.6V511.9" stroke="#111" stroke-width="1.5" stroke-dasharray="3.9,4.1"/>
<path d="M610.7,302.6V511.9" stroke="#111" stroke-width="1.5" stroke-dasharray="3.9,4.1"/>
<path d="M420.8,322.1 L425.6,362.9 L430.5,366.5 L435.4,367.2 L440.2,366.5 L445.1,365.9 L450,362.9 L454.9,360 L459.7,360 L464.6,358.3 L469.5,369.3 L474.3,387 L479.2,388.7 L484.1,390.9 L488.9,392.6 L493.8,394.2 L498.7,395.7 L503.6,397.4 L508.4,398.9 L513.3,401 L518.2,426.3 L523,450 L527.9,458.3 L532.8,463.7 L537.6,467 L542.5,469.1 L547.4,470.7 L552.3,472.2 L557.1,473.3 L562,473.6 L566.9,492.6 L571.7,496.1 L576.6,496.3 L581.5,496.3 L586.4,496.3 L591.2,496.3 L596.1,496.3 L601,496.3 L605.8,496.3 L610.7,496.3 L615.6,496.3 L620.4,358 L625.3,355.8 L630.2,354.5 L635,353.2 L639.9,352.3 L644.8,352.3 L649.7,353.6 L654.5,354.1 L659.4,353.6" stroke="#777" stroke-width="0.75" fill="none"/>
<circle cx="420.8" cy="322.1" r="5.1" fill="url(#ballK)"/>
<circle cx="425.6" cy="362.9" r="5.1" fill="url(#ballK)"/>
<circle cx="430.5" cy="366.5" r="5.1" fill="url(#ballK)"/>
<circle cx="435.4" cy="367.2" r="5.1" fill="url(#ballK)"/>
<circle cx="440.2" cy="366.5" r="5.1" fill="url(#ballK)"/>
<circle cx="445.1" cy="365.9" r="5.1" fill="url(#ballK)"/>
<circle cx="450" cy="362.9" r="5.1" fill="url(#ballK)"/>
<circle cx="454.9" cy="360" r="5.1" fill="url(#ballK)"/>
<circle cx="459.7" cy="360" r="5.1" fill="url(#ballK)"/>
<circle cx="464.6" cy="358.3" r="5.1" fill="url(#ballK)"/>
<circle cx="469.5" cy="369.3" r="5.1" fill="url(#ballK)"/>
<circle cx="474.3" cy="387" r="5.1" fill="url(#ballK)"/>
<circle cx="479.2" cy="388.7" r="5.1" fill="url(#ballK)"/>
<circle cx="484.1" cy="390.9" r="5.1" fill="url(#ballK)"/>
<circle cx="488.9" cy="392.6" r="5.1" fill="url(#ballK)"/>
<circle cx="493.8" cy="394.2" r="5.1" fill="url(#ballK)"/>
<circle cx="498.7" cy="395.7" r="5.1" fill="url(#ballK)"/>
<circle cx="503.6" cy="397.4" r="5.1" fill="url(#ballK)"/>
<circle cx="508.4" cy="398.9" r="5.1" fill="url(#ballK)"/>
<circle cx="513.3" cy="401" r="5.1" fill="url(#ballK)"/>
<circle cx="518.2" cy="426.3" r="5.1" fill="url(#ballK)"/>
<circle cx="523" cy="450" r="5.1" fill="url(#ballK)"/>
<circle cx="527.9" cy="458.3" r="5.1" fill="url(#ballK)"/>
<circle cx="532.8" cy="463.7" r="5.1" fill="url(#ballK)"/>
<circle cx="537.6" cy="467" r="5.1" fill="url(#ballK)"/>
<circle cx="542.5" cy="469.1" r="5.1" fill="url(#ballK)"/>
<circle cx="547.4" cy="470.7" r="5.1" fill="url(#ballK)"/>
<circle cx="552.3" cy="472.2" r="5.1" fill="url(#ballK)"/>
<circle cx="557.1" cy="473.3" r="5.1" fill="url(#ballK)"/>
<circle cx="562" cy="473.6" r="5.1" fill="url(#ballK)"/>
<circle cx="566.9" cy="492.6" r="5.1" fill="url(#ballK)"/>
<circle cx="571.7" cy="496.1" r="5.1" fill="url(#ballK)"/>
<circle cx="576.6" cy="496.3" r="5.1" fill="url(#ballK)"/>
<circle cx="581.5" cy="496.3" r="5.1" fill="url(#ballK)"/>
<circle cx="586.4" cy="496.3" r="5.1" fill="url(#ballK)"/>
<circle cx="591.2" cy="496.3" r="5.1" fill="url(#ballK)"/>
<circle cx="596.1" cy="496.3" r="5.1" fill="url(#ballK)"/>
<circle cx="601" cy="496.3" r="5.1" fill="url(#ballK)"/>
<circle cx="605.8" cy="496.3" r="5.1" fill="url(#ballK)"/>
<circle cx="610.7" cy="496.3" r="5.1" fill="url(#ballK)"/>
<circle cx="615.6" cy="496.3" r="5.1" fill="url(#ballK)"/>
<circle cx="620.4" cy="358" r="5.1" fill="url(#ballK)"/>
<circle cx="625.3" cy="355.8" r="5.1" fill="url(#ballK)"/>
<circle cx="630.2" cy="354.5" r="5.1" fill="url(#ballK)"/>
<circle cx="635" cy="353.2" r="5.1" fill="url(#ballK)"/>
<circle cx="639.9" cy="352.3" r="5.1" fill="url(#ballK)"/>
<circle cx="644.8" cy="352.3" r="5.1" fill="url(#ballK)"/>
<circle cx="649.7" cy="353.6" r="5.1" fill="url(#ballK)"/>
<circle cx="654.5" cy="354.1" r="5.1" fill="url(#ballK)"/>
<circle cx="659.4" cy="353.6" r="5.1" fill="url(#ballK)"/>
</g>
<rect x="410.8" y="302.6" width="252.8" height="209.3" fill="none" stroke="#000" stroke-width="2.2"/>
<path d="M415.9,511.9v-4M415.9,302.6v4M464.6,511.9v-4M464.6,302.6v4M513.3,511.9v-4M513.3,302.6v4M562,511.9v-4M562,302.6v4M610.7,511.9v-4M610.7,302.6v4M659.4,511.9v-4M659.4,302.6v4M440.2,511.9v-2.5M440.2,302.6v2.5M488.9,511.9v-2.5M488.9,302.6v2.5M537.6,511.9v-2.5M537.6,302.6v2.5M586.4,511.9v-2.5M586.4,302.6v2.5M635,511.9v-2.5M635,302.6v2.5" stroke="#000" stroke-width="1.6" fill="none"/>
<path d="M410.8,500.2h4M410.8,463h4M410.8,425.8h4M410.8,388.7h4M410.8,351.5h4M410.8,314.3h4M410.8,481.6h2.5M410.8,444.4h2.5M410.8,407.3h2.5M410.8,370.1h2.5M410.8,332.9h2.5" stroke="#000" stroke-width="1.6" fill="none"/>
<path d="M663.6,500.2h-4M663.6,463h-4M663.6,425.8h-4M663.6,388.7h-4M663.6,351.5h-4M663.6,314.3h-4M663.6,481.6h-2.5M663.6,444.4h-2.5M663.6,407.3h-2.5M663.6,370.1h-2.5M663.6,332.9h-2.5" stroke="#000" stroke-width="1.6" fill="none"/>
<text x="415.9" y="525.9" font-size="10.5" text-anchor="middle" font-weight="normal" fill="#222" >0</text>
<text x="464.6" y="525.9" font-size="10.5" text-anchor="middle" font-weight="normal" fill="#222" >10</text>
<text x="513.3" y="525.9" font-size="10.5" text-anchor="middle" font-weight="normal" fill="#222" >20</text>
<text x="562" y="525.9" font-size="10.5" text-anchor="middle" font-weight="normal" fill="#222" >30</text>
<text x="610.7" y="525.9" font-size="10.5" text-anchor="middle" font-weight="normal" fill="#222" >40</text>
<text x="659.4" y="525.9" font-size="10.5" text-anchor="middle" font-weight="normal" fill="#222" >50</text>
<text x="406" y="503.4" font-size="10.5" text-anchor="end" font-weight="normal" fill="#222" letter-spacing="0.25">0</text>
<text x="406" y="466.2" font-size="10.5" text-anchor="end" font-weight="normal" fill="#222" letter-spacing="0.25">300</text>
<text x="406" y="429" font-size="10.5" text-anchor="end" font-weight="normal" fill="#222" letter-spacing="0.25">600</text>
<text x="406" y="391.9" font-size="10.5" text-anchor="end" font-weight="normal" fill="#222" letter-spacing="0.25">900</text>
<text x="406" y="354.7" font-size="10.5" text-anchor="end" font-weight="normal" fill="#222" letter-spacing="0.25">1200</text>
<text x="406" y="317.5" font-size="10.5" text-anchor="end" font-weight="normal" fill="#222" letter-spacing="0.25">1500</text>
<text transform="rotate(-90 376.3 401.7)" x="376.3" y="401.7" font-size="17" text-anchor="middle" fill="#222">Capacity (mAhg<tspan font-size="10.5" dy="-7">-1</tspan><tspan dy="7">)</tspan></text>
<text x="542" y="543.1" font-size="16.5" letter-spacing="0.25" text-anchor="middle" fill="#222">Cycle number</text>
<text x="430.2" y="342" font-size="15.3" text-anchor="start" font-weight="bold" fill="#111" >0.2C</text>
<text x="481" y="342" font-size="15.3" text-anchor="start" font-weight="bold" fill="#111" >1C</text>
<text x="530.1" y="342" font-size="15.3" text-anchor="start" font-weight="bold" fill="#111" >2C</text>
<text x="576.8" y="342" font-size="15.3" text-anchor="start" font-weight="bold" fill="#111" >5C</text>
<text x="619.2" y="342" font-size="15.3" text-anchor="start" font-weight="bold" fill="#111" >0.2C</text>
</svg></body></html>
